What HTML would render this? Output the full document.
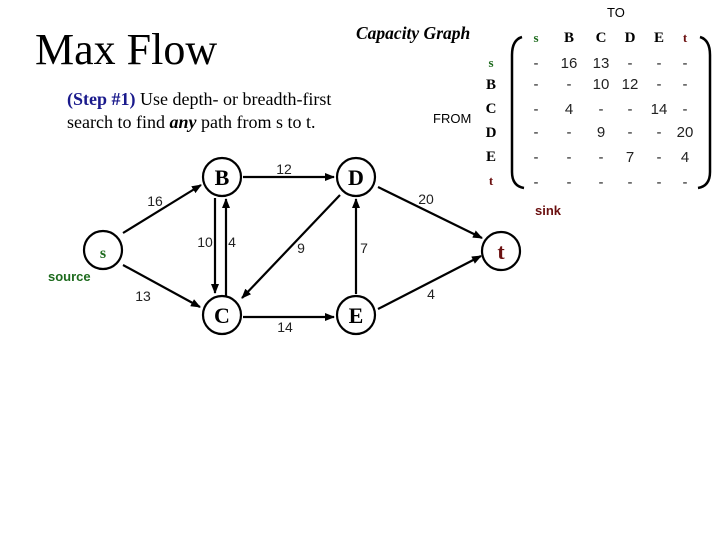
<!DOCTYPE html>
<html><head><meta charset="utf-8"><style>body{margin:0;background:#fff}svg{display:block}</style></head><body>
<svg width="720" height="540" viewBox="0 0 720 540" xmlns="http://www.w3.org/2000/svg" font-family="Liberation Serif, serif">
<defs><marker id="a" markerWidth="10" markerHeight="8" refX="9" refY="4" orient="auto" markerUnits="userSpaceOnUse"><path d="M0,0 L10,4 L0,8 z" fill="#000"/></marker></defs>
<text x="35" y="64" font-size="44">Max Flow</text>
<text x="356" y="39" font-size="17.5" font-weight="bold" font-style="italic">Capacity Graph</text>
<text x="67" y="105" font-size="18"><tspan fill="#1a1a8c" font-weight="bold">(Step #1)</tspan> Use depth- or breadth-first</text>
<text x="67" y="128" font-size="18">search to find <tspan font-weight="bold" font-style="italic">any</tspan> path from s to t.</text>
<text x="607" y="17" font-size="13" font-family="Liberation Sans, sans-serif">TO</text>
<text x="433" y="123" font-size="13" font-family="Liberation Sans, sans-serif">FROM</text>
<g fill="none" stroke="#000" stroke-width="2.5">
<path d="M522,37 Q512,40 512,55 L512,172 Q512,186 524,188"/>
<path d="M700,37 Q710,40 710,55 L710,172 Q710,186 698,188"/>
</g>
<g font-size="15" font-weight="bold" text-anchor="middle">
<text x="536" y="42" fill="#1e6b1e" font-size="13">s</text><text x="569" y="42">B</text><text x="601" y="42">C</text><text x="630" y="42">D</text><text x="659" y="42">E</text><text x="685" y="42" fill="#6b1010" font-size="13">t</text>
<text x="491" y="67" fill="#1e6b1e" font-size="13">s</text><text x="491" y="89">B</text><text x="491" y="113">C</text><text x="491" y="137">D</text><text x="491" y="161">E</text><text x="491" y="185" fill="#6b1010" font-size="13">t</text>
</g>
<g font-size="15" text-anchor="middle" font-family="Liberation Sans, sans-serif" fill="#222">
<text x="536" y="68">-</text><text x="569" y="68">16</text><text x="601" y="68">13</text><text x="630" y="68">-</text><text x="659" y="68">-</text><text x="685" y="68">-</text>
<text x="536" y="89">-</text><text x="569" y="89">-</text><text x="601" y="89">10</text><text x="630" y="89">12</text><text x="659" y="89">-</text><text x="685" y="89">-</text>
<text x="536" y="114">-</text><text x="569" y="114">4</text><text x="601" y="114">-</text><text x="630" y="114">-</text><text x="659" y="114">14</text><text x="685" y="114">-</text>
<text x="536" y="137">-</text><text x="569" y="137">-</text><text x="601" y="137">9</text><text x="630" y="137">-</text><text x="659" y="137">-</text><text x="685" y="137">20</text>
<text x="536" y="162">-</text><text x="569" y="162">-</text><text x="601" y="162">-</text><text x="630" y="162">7</text><text x="659" y="162">-</text><text x="685" y="162">4</text>
<text x="536" y="187">-</text><text x="569" y="187">-</text><text x="601" y="187">-</text><text x="630" y="187">-</text><text x="659" y="187">-</text><text x="685" y="187">-</text>
</g>
<g stroke="#000" stroke-width="2.2" marker-end="url(#a)">
<line x1="123" y1="233" x2="201" y2="185"/>
<line x1="123" y1="265" x2="200" y2="307"/>
<line x1="243" y1="177" x2="334" y2="177"/>
<line x1="215" y1="198" x2="215" y2="293"/>
<line x1="226" y1="296" x2="226" y2="199"/>
<line x1="340" y1="195" x2="242" y2="298"/>
<line x1="356" y1="294" x2="356" y2="199"/>
<line x1="243" y1="317" x2="334" y2="317"/>
<line x1="378" y1="187" x2="482" y2="238"/>
<line x1="378" y1="309" x2="481" y2="256"/>
</g>
<g fill="#fff" stroke="#000" stroke-width="2.2">
<circle cx="103" cy="250" r="19"/><circle cx="222" cy="177" r="19"/><circle cx="356" cy="177" r="19"/>
<circle cx="222" cy="315" r="19"/><circle cx="356" cy="315" r="19"/><circle cx="501" cy="251" r="19"/>
</g>
<g font-size="22" font-weight="bold" text-anchor="middle">
<text x="103" y="258" fill="#1e6b1e" font-size="16">s</text>
<text x="222" y="185">B</text><text x="356" y="185">D</text><text x="222" y="323">C</text><text x="356" y="323">E</text>
<text x="501" y="259" fill="#6b1010">t</text>
</g>
<text x="48" y="281" font-size="13" font-weight="bold" fill="#1e6b1e" font-family="Liberation Sans, sans-serif">source</text>
<text x="535" y="215" font-size="13" font-weight="bold" fill="#6b1010" font-family="Liberation Sans, sans-serif">sink</text>
<g font-size="14" font-family="Liberation Sans, sans-serif" text-anchor="middle" fill="#222">
<text x="155" y="206">16</text><text x="143" y="301">13</text><text x="284" y="174">12</text>
<text x="205" y="247">10</text><text x="232" y="247">4</text><text x="301" y="253">9</text>
<text x="364" y="253">7</text><text x="285" y="332">14</text><text x="426" y="204">20</text><text x="431" y="299">4</text>
</g>
</svg>
</body></html>
